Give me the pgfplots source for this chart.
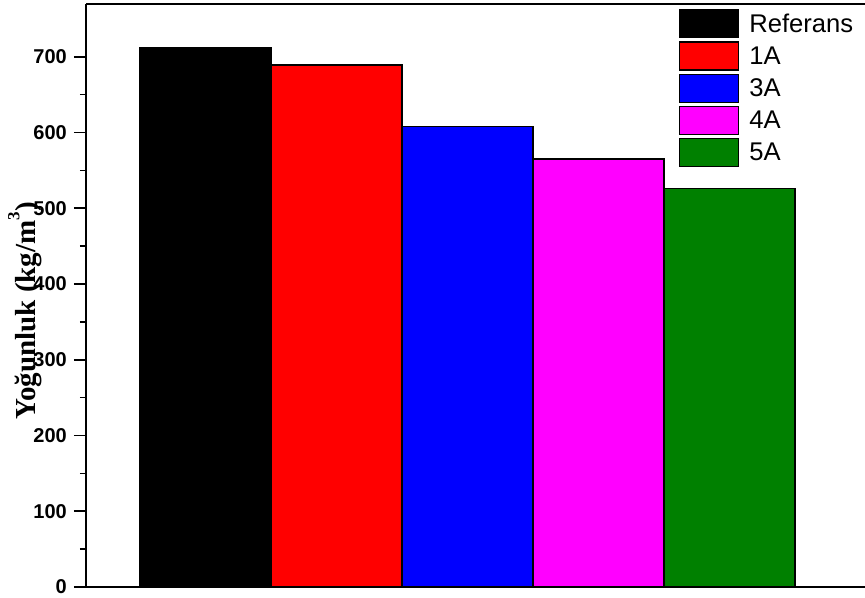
\documentclass[border=0pt]{standalone}
\usepackage{fontspec}
\setmainfont{Liberation Sans}
\newfontfamily\timesfont{Liberation Serif}
\usepackage{pgfplots}
\pgfplotsset{compat=1.18}
\definecolor{darkgreen}{RGB}{0,128,0}
\definecolor{puremagenta}{RGB}{255,0,255}
\definecolor{purered}{RGB}{255,0,0}
\definecolor{pureblue}{RGB}{0,0,255}

\pgfplotsset{
  densitybar/.style={
    draw=black, line width=1.2pt, fill=#1,
    legend image code/.code={%
      \draw[##1, line width=1.2pt] (0pt,-14pt) rectangle (59pt,14pt);
    },
  },
}

\begin{document}
\begin{tikzpicture}
\begin{axis}[
  scale only axis, width=779pt, height=582.5pt,
  xmin=0.0878, xmax=6.034, ymin=0, ymax=769,
  axis x line*=bottom, axis y line*=left,
  axis line style={line width=2pt,-},
  axis on top, clip=false,
  ybar, bar width=1, bar shift=0pt,
  xtick=\empty,
  ytick={0,100,...,700}, minor y tick num=1,
  tick align=outside,
  major tick length=12pt, minor tick length=6pt,
  tick style={black, line width=1.6pt},
  /pgf/number format/assume math mode=true,
  tick label style={font=\bfseries\fontsize{20}{21}\selectfont},
  yticklabel style={inner sep=0pt, xshift=-7pt},
  ylabel={Yoğunluk (kg/m\raisebox{0.55em}{\fontsize{17}{17}\selectfont 3})},
  ylabel style={at={(axis description cs:-0.0783,0.474)}, anchor=center,
    font=\timesfont\bfseries\fontsize{29}{30}\selectfont},
  legend style={draw=none, fill=none, at={(0.7612,0.9923)}, anchor=north west,
    font=\fontsize{25.6}{28}\selectfont, inner sep=0pt, row sep=3pt,
    column sep=10pt, nodes={inner sep=0pt}},
  legend cell align=left,
]
\addplot[densitybar=black]       coordinates {(1,712)};
\addplot[densitybar=purered]     coordinates {(2,689)};
\addplot[densitybar=pureblue]    coordinates {(3,608)};
\addplot[densitybar=puremagenta] coordinates {(4,565)};
\addplot[densitybar=darkgreen]   coordinates {(5,526)};
\legend{Referans,1A,3A,4A,5A}
\draw[line width=2pt] (rel axis cs:0,1) -- (rel axis cs:1,1);
\end{axis}
\pgfresetboundingbox
\useasboundingbox ([xshift=-86pt,yshift=-10pt]current axis.south west)
  rectangle ([yshift=4.5pt]current axis.north east);
\end{tikzpicture}
\end{document}
